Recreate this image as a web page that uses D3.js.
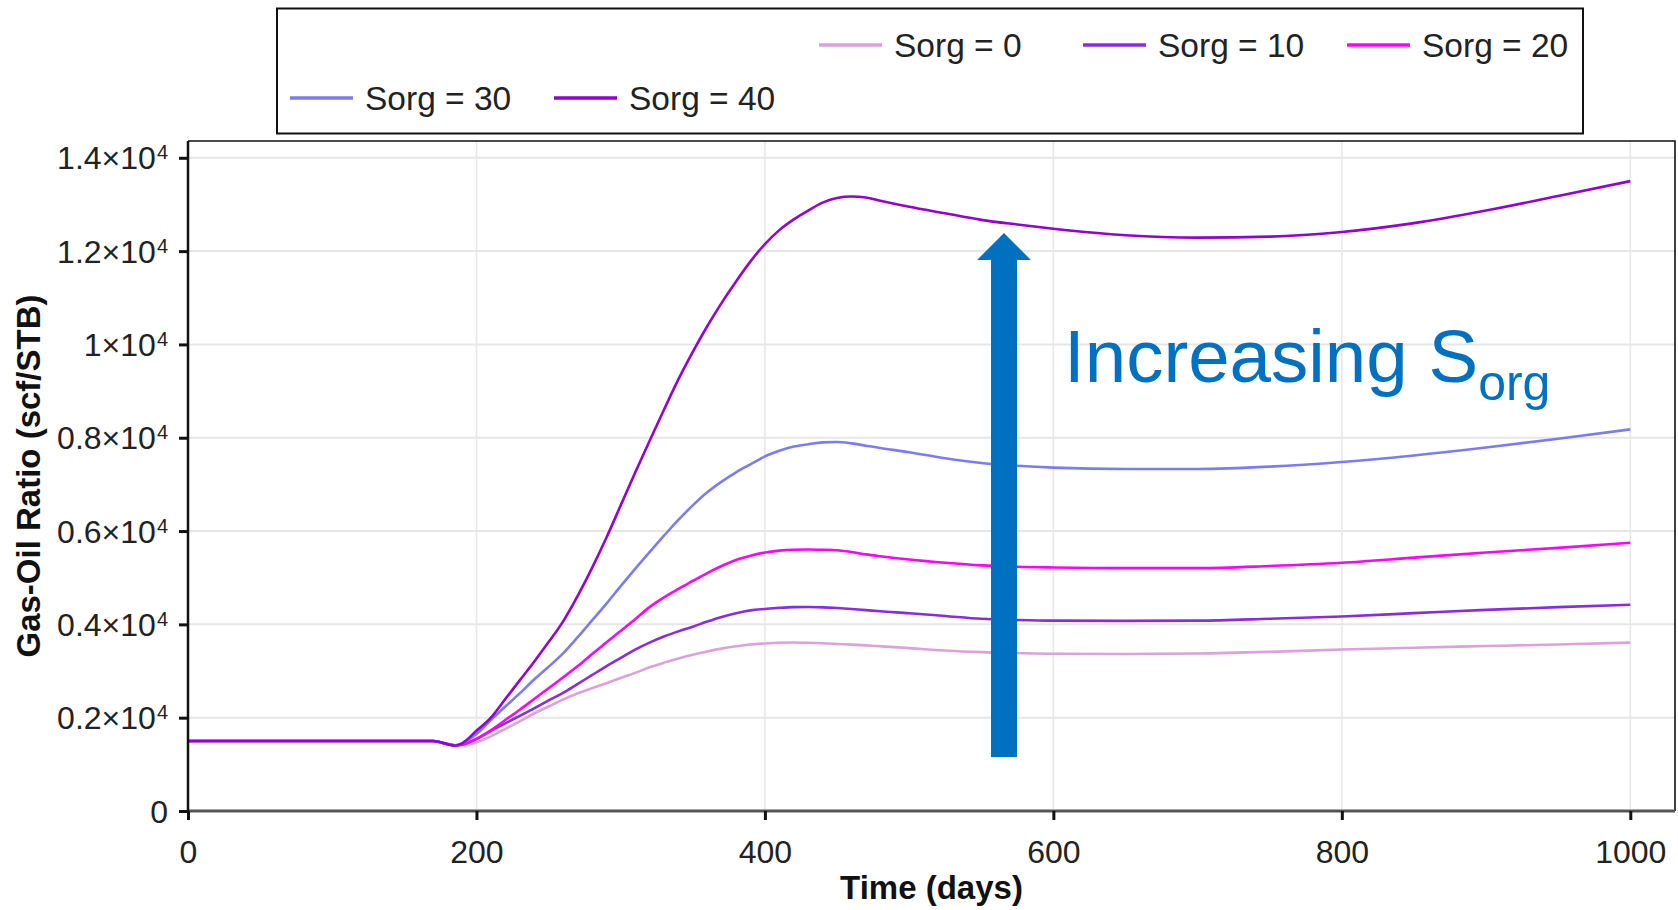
<!DOCTYPE html>
<html>
<head>
<meta charset="utf-8">
<script src="https://cdn.jsdelivr.net/npm/d3@7"></script>
<style>
  html, body { margin: 0; padding: 0; background: #ffffff; }
  svg { display: block; font-family: "Liberation Sans", Arial, sans-serif; }
</style>
</head>
<body>
<svg id="chart" width="1678" height="910"></svg>
<script>
// ---------------- data ----------------
const days = [0, 170, 180, 185, 190, 200, 210, 220, 230, 240, 250, 260, 270, 280, 290, 300, 310, 320, 330, 340, 350, 360, 370, 380, 390, 400, 410, 420, 430, 440, 450, 460, 470, 480, 500, 525, 550, 575, 600, 650, 700, 750, 800, 850, 900, 950, 1000];

const sorg0  = [1500, 1500, 1440, 1410, 1410, 1470, 1600, 1760, 1920, 2090, 2240, 2390, 2520, 2630, 2740, 2850, 2960, 3080, 3180, 3270, 3350, 3420, 3480, 3530, 3570, 3590, 3605, 3610, 3605, 3595, 3580, 3565, 3550, 3530, 3490, 3440, 3405, 3385, 3370, 3365, 3375, 3410, 3460, 3500, 3535, 3570, 3610];
const sorg10 = [1500, 1500, 1430, 1405, 1420, 1540, 1720, 1880, 2040, 2200, 2370, 2530, 2720, 2910, 3100, 3280, 3460, 3610, 3740, 3850, 3950, 4060, 4160, 4240, 4300, 4330, 4355, 4370, 4372, 4365, 4350, 4330, 4305, 4280, 4240, 4180, 4120, 4095, 4080, 4075, 4080, 4120, 4170, 4240, 4310, 4370, 4420];
const sorg20 = [1500, 1500, 1430, 1405, 1430, 1550, 1730, 1950, 2170, 2400, 2630, 2860, 3100, 3360, 3610, 3860, 4110, 4370, 4580, 4760, 4930, 5100, 5250, 5380, 5470, 5540, 5580, 5600, 5605, 5600, 5590, 5550, 5500, 5460, 5390, 5320, 5265, 5235, 5220, 5205, 5205, 5250, 5320, 5430, 5540, 5640, 5750];
const sorg30 = [1500, 1500, 1440, 1410, 1450, 1650, 1950, 2240, 2520, 2820, 3090, 3380, 3720, 4080, 4440, 4820, 5190, 5550, 5900, 6240, 6550, 6830, 7060, 7260, 7430, 7600, 7720, 7810, 7860, 7900, 7910, 7880, 7830, 7780, 7690, 7560, 7460, 7400, 7360, 7330, 7330, 7380, 7480, 7620, 7790, 7980, 8180];
const sorg40 = [1500, 1500, 1430, 1400, 1450, 1720, 2000, 2400, 2800, 3200, 3620, 4060, 4600, 5200, 5850, 6550, 7250, 7930, 8600, 9250, 9840, 10390, 10890, 11350, 11780, 12150, 12450, 12680, 12870, 13040, 13140, 13170, 13150, 13080, 12950, 12810, 12670, 12570, 12480, 12340, 12290, 12310, 12410, 12600, 12870, 13180, 13500];

const seriesNames  = ["Sorg = 0", "Sorg = 10", "Sorg = 20", "Sorg = 30", "Sorg = 40"];
const seriesValues = [sorg0, sorg10, sorg20, sorg30, sorg40];
const seriesColors = ["#DDA0DD", "#8A2BE2", "#FF00FF", "#7B7BF5", "#9400D3"];

const xTicks = [0, 200, 400, 600, 800, 1000];
const yTicks = [0, 2000, 4000, 6000, 8000, 10000, 12000, 14000];
const yTickMantissa = ["0", "0.2", "0.4", "0.6", "0.8", "1", "1.2", "1.4"];

const xTitle = "Time (days)";
const yTitle = "Gas-Oil Ratio (scf/STB)";
const annotationMain = "Increasing S";
const annotationSub = "org";

// ---------------- layout ----------------
const svg = d3.select("#chart");
const plot = { left: 188, right: 1675, top: 141, bottom: 811 };

const x = d3.scaleLinear().domain([0, 1031]).range([plot.left, plot.right]);
const y = d3.scaleLinear().domain([0, 14360]).range([plot.bottom, plot.top]);

// gridlines
const grid = svg.append("g");
grid.selectAll("line.gy").data(yTicks.filter(d => d > 0)).enter().append("line")
  .attr("x1", plot.left).attr("x2", plot.right)
  .attr("y1", d => y(d)).attr("y2", d => y(d))
  .attr("stroke", "#e6e6e6").attr("stroke-width", 2);
grid.selectAll("line.gx").data(xTicks.filter(d => d > 0)).enter().append("line")
  .attr("y1", plot.top).attr("y2", plot.bottom)
  .attr("x1", d => x(d)).attr("x2", d => x(d))
  .attr("stroke", "#e8e8e8").attr("stroke-width", 1.6);

// frame (top & right)
svg.append("path")
  .attr("d", `M${plot.left},${plot.top}H${plot.right}V${plot.bottom}`)
  .attr("fill", "none").attr("stroke", "#111").attr("stroke-width", 1.6);

// series lines
const line = d3.line()
  .x((d, i) => x(days[i]))
  .y(d => y(d))
  .curve(d3.curveMonotoneX);

svg.append("g").selectAll("path").data(seriesValues).enter().append("path")
  .attr("d", d => line(d))
  .attr("fill", "none")
  .attr("stroke", (d, i) => seriesColors[i])
  .attr("stroke-width", 2.6)
  .attr("stroke-linejoin", "round");

// x axis
const xAxis = svg.append("g")
  .attr("transform", `translate(0,${plot.bottom})`)
  .call(d3.axisBottom(x).tickValues(xTicks).tickFormat(d3.format("d"))
    .tickSize(9).tickPadding(20).tickSizeOuter(0));
xAxis.select(".domain").attr("stroke", "#555").attr("stroke-width", 3)
  .attr("d", `M${plot.left - 1},0H${plot.right}`);
xAxis.selectAll(".tick line").attr("stroke", "#111").attr("stroke-width", 3);
xAxis.selectAll(".tick text")
  .attr("font-family", "'Liberation Sans', Arial, sans-serif")
  .attr("font-size", 32).attr("fill", "#222");

// y axis
const yAxis = svg.append("g")
  .attr("transform", `translate(${plot.left},0)`)
  .call(d3.axisLeft(y).tickValues(yTicks).tickSize(9).tickFormat("").tickSizeOuter(0));
yAxis.select(".domain").attr("stroke", "#111").attr("stroke-width", 2.5)
  .attr("d", `M0,${plot.top}V${plot.bottom + 1}`);
yAxis.selectAll(".tick line").attr("stroke", "#111").attr("stroke-width", 3);

const yLabels = svg.append("g");
yTicks.forEach((v, i) => {
  const t = yLabels.append("text")
    .attr("x", 168)
    .attr("y", y(v) + 11.5)
    .attr("text-anchor", "end")
    .attr("font-size", 32)
    .attr("fill", "#222");
  if (v === 0) {
    t.text("0");
  } else {
    t.append("tspan").text(yTickMantissa[i] + "\u00D710");
    t.append("tspan").attr("font-size", 20).attr("dx", 1).attr("dy", -10).text("4");
  }
});

// axis titles
svg.append("text")
  .attr("x", (plot.left + plot.right) / 2)
  .attr("y", 899)
  .attr("text-anchor", "middle")
  .attr("font-size", 33).attr("font-weight", "bold").attr("fill", "#111")
  .text(xTitle);

svg.append("text")
  .attr("transform", `translate(40,${(plot.top + plot.bottom) / 2}) rotate(-90)`)
  .attr("text-anchor", "middle")
  .attr("font-size", 33).attr("font-weight", "bold").attr("fill", "#111")
  .text(yTitle);

// legend
const legend = svg.append("g");
legend.append("rect")
  .attr("x", 277).attr("y", 8.5).attr("width", 1306).attr("height", 125)
  .attr("fill", "#fff").attr("stroke", "#111").attr("stroke-width", 2);

const legendStep = 264;
const legendRows = [
  { items: [0, 1, 2], x0: 819, cy: 45 },
  { items: [3, 4], x0: 290, cy: 98 }
];
legendRows.forEach(row => {
  row.items.forEach((si, k) => {
    const lx = row.x0 + k * legendStep;
    legend.append("line")
      .attr("x1", lx).attr("x2", lx + 63)
      .attr("y1", row.cy).attr("y2", row.cy)
      .attr("stroke", seriesColors[si]).attr("stroke-width", 3.5);
    legend.append("text")
      .attr("x", lx + 75).attr("y", row.cy + 11.5)
      .attr("font-size", 33.5).attr("fill", "#222")
      .text(seriesNames[si]);
  });
});

// annotation arrow
const arrowX = 1004, arrowTop = 233, arrowHeadBase = 260, arrowBottom = 757;
svg.append("path")
  .attr("d", `M${arrowX - 13},${arrowBottom}V${arrowHeadBase}H${arrowX - 27}L${arrowX},${arrowTop}L${arrowX + 27},${arrowHeadBase}H${arrowX + 13}V${arrowBottom}Z`)
  .attr("fill", "#0070C0");

const ann = svg.append("text")
  .attr("x", 1064).attr("y", 382)
  .attr("font-size", 74.5).attr("fill", "#0070C0");
ann.append("tspan").text(annotationMain);
ann.append("tspan").attr("font-size", 50).attr("dy", 18).text(annotationSub);
</script>
</body>
</html>
